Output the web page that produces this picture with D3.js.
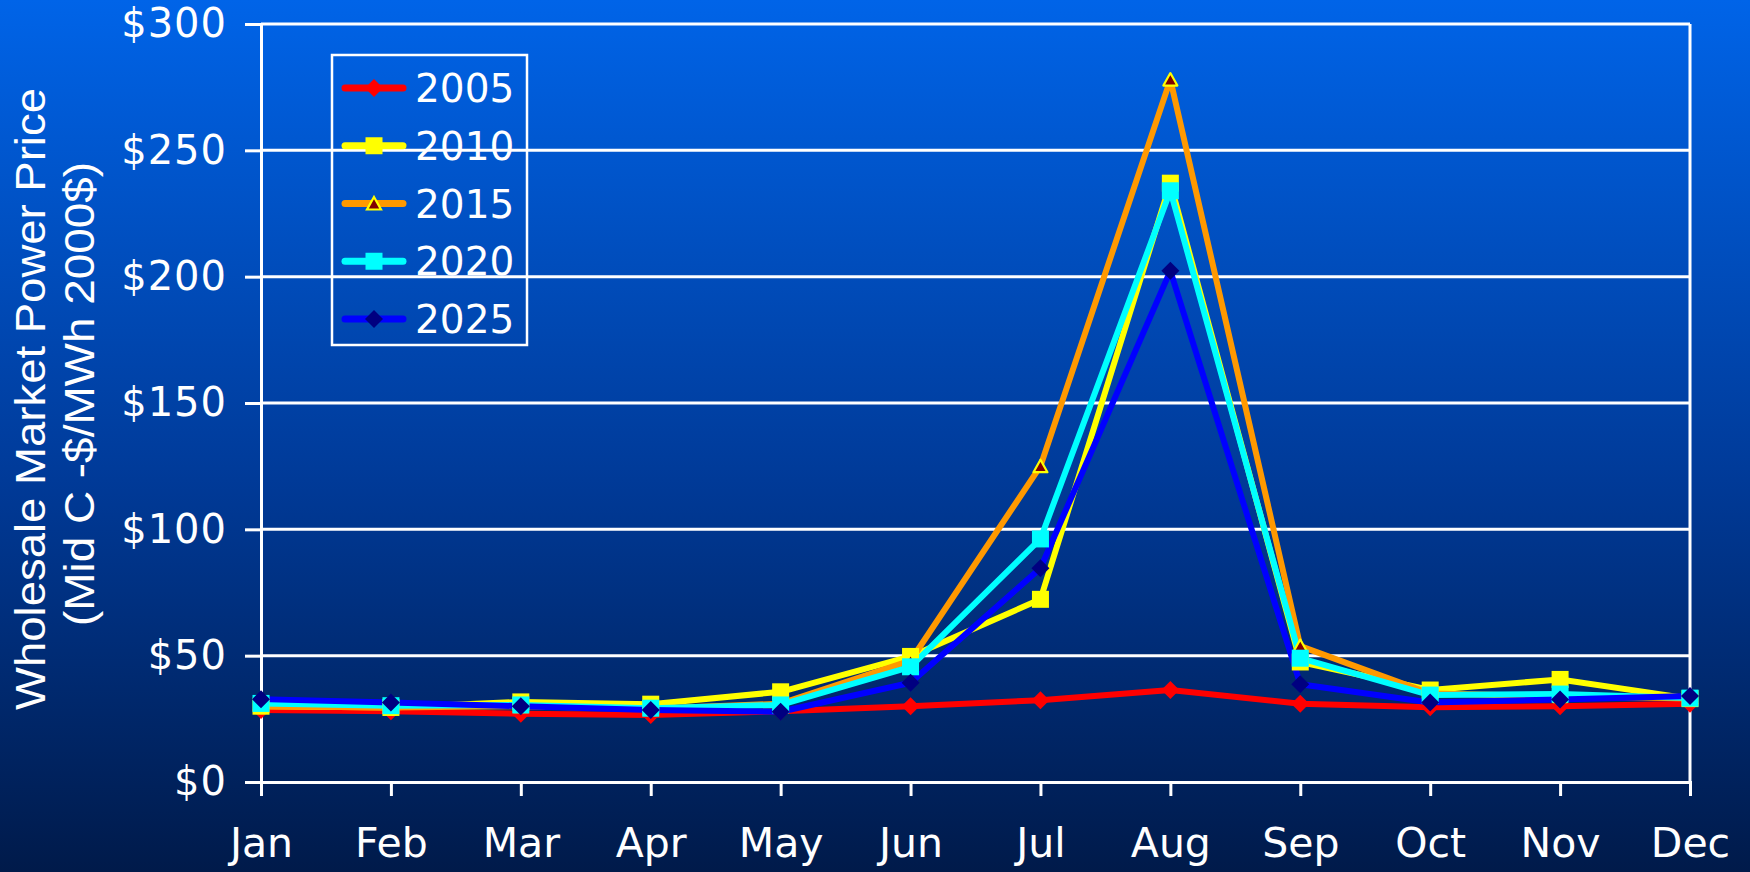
<!DOCTYPE html>
<html><head><meta charset="utf-8">
<script src="https://cdn.jsdelivr.net/npm/d3@7"></script>
<style>html,body{margin:0;padding:0;background:#001b4d;overflow:hidden}svg{display:block}</style>
</head><body>
<svg id="c" width="1750" height="872"></svg>
<script>
// ---- data ----
const months = ["Jan","Feb","Mar","Apr","May","Jun","Jul","Aug","Sep","Oct","Nov","Dec"];
const years = ["2005","2010","2015","2020","2025"];
const v2005 = [28.5, 28, 27, 26.5, 28, 30, 32.4, 36.4, 31, 29.6, 30, 31];
const v2010 = [30, 29.5, 31.7, 30.8, 35.7, 49.7, 72.3, 237, 47.5, 36.4, 40.6, 33];
const v2015 = [30, 29.5, 30, 29, 31, 48, 125, 278, 53.8, 35, 34, 33];
const v2020 = [31.1, 30.2, 30.5, 29.2, 30.5, 45.6, 96.2, 234, 49, 34.4, 34.8, 33.2];
const v2025 = [32.8, 31.5, 30, 28.5, 27.8, 39.3, 84.6, 202.3, 38.7, 31.5, 32.7, 34];
const yTicks = [0, 50, 100, 150, 200, 250, 300];
const yTitle1 = "Wholesale Market Power Price";
const yTitle2 = "(Mid C -$/MWh 2000$)";

const seriesValues = [v2005, v2010, v2015, v2020, v2025];
const lineColors = ["#FF0000", "#FFFF00", "#FF9900", "#00FFFF", "#0000FF"];
const markerStyle = [
  {shape: "diamond", fill: "#FF0000", stroke: "none"},
  {shape: "square", fill: "#FFFF00", stroke: "none"},
  {shape: "triangle", fill: "#800000", stroke: "#FFFF00"},
  {shape: "square", fill: "#00FFFF", stroke: "none"},
  {shape: "diamond", fill: "#000080", stroke: "none"}
];

const svg = d3.select("#c");
const W = 1750, H = 872;

// background gradient
const defs = svg.append("defs");
const g = defs.append("linearGradient").attr("id", "bg").attr("x1", 0).attr("y1", 0).attr("x2", 0).attr("y2", 1);
g.append("stop").attr("offset", "0%").attr("stop-color", "#0064E8");
g.append("stop").attr("offset", "55%").attr("stop-color", "#003A98");
g.append("stop").attr("offset", "100%").attr("stop-color", "#001A4A");
svg.append("rect").attr("width", W).attr("height", H).attr("fill", "url(#bg)");

const x = d3.scalePoint().domain(months).range([261, 1690]);
const y = d3.scaleLinear().domain([0, 300]).range([782, 24]);

const font = "'DejaVu Sans', Verdana, sans-serif";

// gridlines
svg.append("g").selectAll("line").data(yTicks.filter(d => d > 0)).join("line")
  .attr("x1", 261).attr("x2", 1690).attr("y1", d => y(d)).attr("y2", d => y(d))
  .attr("stroke", "#fff").attr("stroke-width", 3);

// right border
svg.append("line").attr("x1", 1690).attr("x2", 1690).attr("y1", y(300)).attr("y2", y(0))
  .attr("stroke", "#fff").attr("stroke-width", 3);

// y axis
const yAxis = d3.axisLeft(y).tickValues(yTicks).tickSize(16).tickPadding(18)
  .tickFormat(d => "$" + d);
const ya = svg.append("g").attr("transform", "translate(261,0)").call(yAxis);
ya.select(".domain").attr("stroke", "#fff").attr("stroke-width", 3);
ya.selectAll(".tick line").attr("stroke", "#fff").attr("stroke-width", 3);
ya.selectAll(".tick text").attr("fill", "#fff").style("font-family", font).style("font-size", "40px")
  .style("letter-spacing", "1px");

// x axis
const xAxis = d3.axisBottom(x).tickSize(14).tickPadding(32);
const xa = svg.append("g").attr("transform", "translate(0,782)").call(xAxis);
xa.select(".domain").attr("stroke", "#fff").attr("stroke-width", 3);
xa.selectAll(".tick line").attr("stroke", "#fff").attr("stroke-width", 3);
xa.selectAll(".tick text").attr("fill", "#fff").style("font-family", font).style("font-size", "41px");

// y title
svg.append("text").attr("transform", "translate(45,399) rotate(-90)")
  .attr("text-anchor", "middle").attr("fill", "#fff")
  .style("font-family", "'Liberation Sans Narrow', 'Arial Narrow', 'Liberation Sans', sans-serif")
  .style("font-size", "42px")
  .attr("textLength", 622).attr("lengthAdjust", "spacingAndGlyphs")
  .text(yTitle1);
svg.append("text").attr("transform", "translate(94,394) rotate(-90)")
  .attr("text-anchor", "middle").attr("fill", "#fff")
  .style("font-family", "'Liberation Sans Narrow', 'Arial Narrow', 'Liberation Sans', sans-serif")
  .style("font-size", "42px")
  .attr("textLength", 464).attr("lengthAdjust", "spacingAndGlyphs")
  .text(yTitle2);

function markerPath(shape) {
  if (shape === "diamond") return "M0,-9L9,0L0,9L-9,0Z";
  if (shape === "square") return "M-8.5,-8.5H8.5V8.5H-8.5Z";
  return "M0,-6.5L7,6L-7,6Z";
}

// lines
const line = d3.line().x((d, i) => x(months[i])).y(d => y(d));
svg.append("g").selectAll("path").data(seriesValues).join("path")
  .attr("d", d => line(d)).attr("fill", "none")
  .attr("stroke", (d, i) => lineColors[i]).attr("stroke-width", 6)
  .attr("stroke-linejoin", "round").attr("stroke-linecap", "round");

// markers
seriesValues.forEach((vals, si) => {
  const ms = markerStyle[si];
  svg.append("g").selectAll("path").data(vals).join("path")
    .attr("transform", (d, i) => `translate(${x(months[i])},${y(d)})`)
    .attr("d", markerPath(ms.shape))
    .attr("fill", ms.fill)
    .attr("stroke", ms.stroke).attr("stroke-width", ms.stroke === "none" ? 0 : 2.2)
    .attr("stroke-linejoin", "round");
});

// legend
const lg = svg.append("g");
lg.append("rect").attr("x", 332).attr("y", 55).attr("width", 195).attr("height", 290)
  .attr("fill", "none").attr("stroke", "#fff").attr("stroke-width", 2.5);
const rowY = d3.scalePoint().domain(years).range([88, 319]);
years.forEach((yr, si) => {
  const cy = rowY(yr);
  const ms = markerStyle[si];
  lg.append("line").attr("x1", 345).attr("x2", 403).attr("y1", cy).attr("y2", cy)
    .attr("stroke", lineColors[si]).attr("stroke-width", 7).attr("stroke-linecap", "round");
  lg.append("path").attr("transform", `translate(374,${cy})`).attr("d", markerPath(ms.shape))
    .attr("fill", ms.fill).attr("stroke", ms.stroke).attr("stroke-width", ms.stroke === "none" ? 0 : 2.2);
  lg.append("text").attr("x", 415).attr("y", cy).attr("dy", "0.36em")
    .attr("fill", "#fff").style("font-family", font).style("font-size", "39px").text(yr);
});
</script>
</body></html>
